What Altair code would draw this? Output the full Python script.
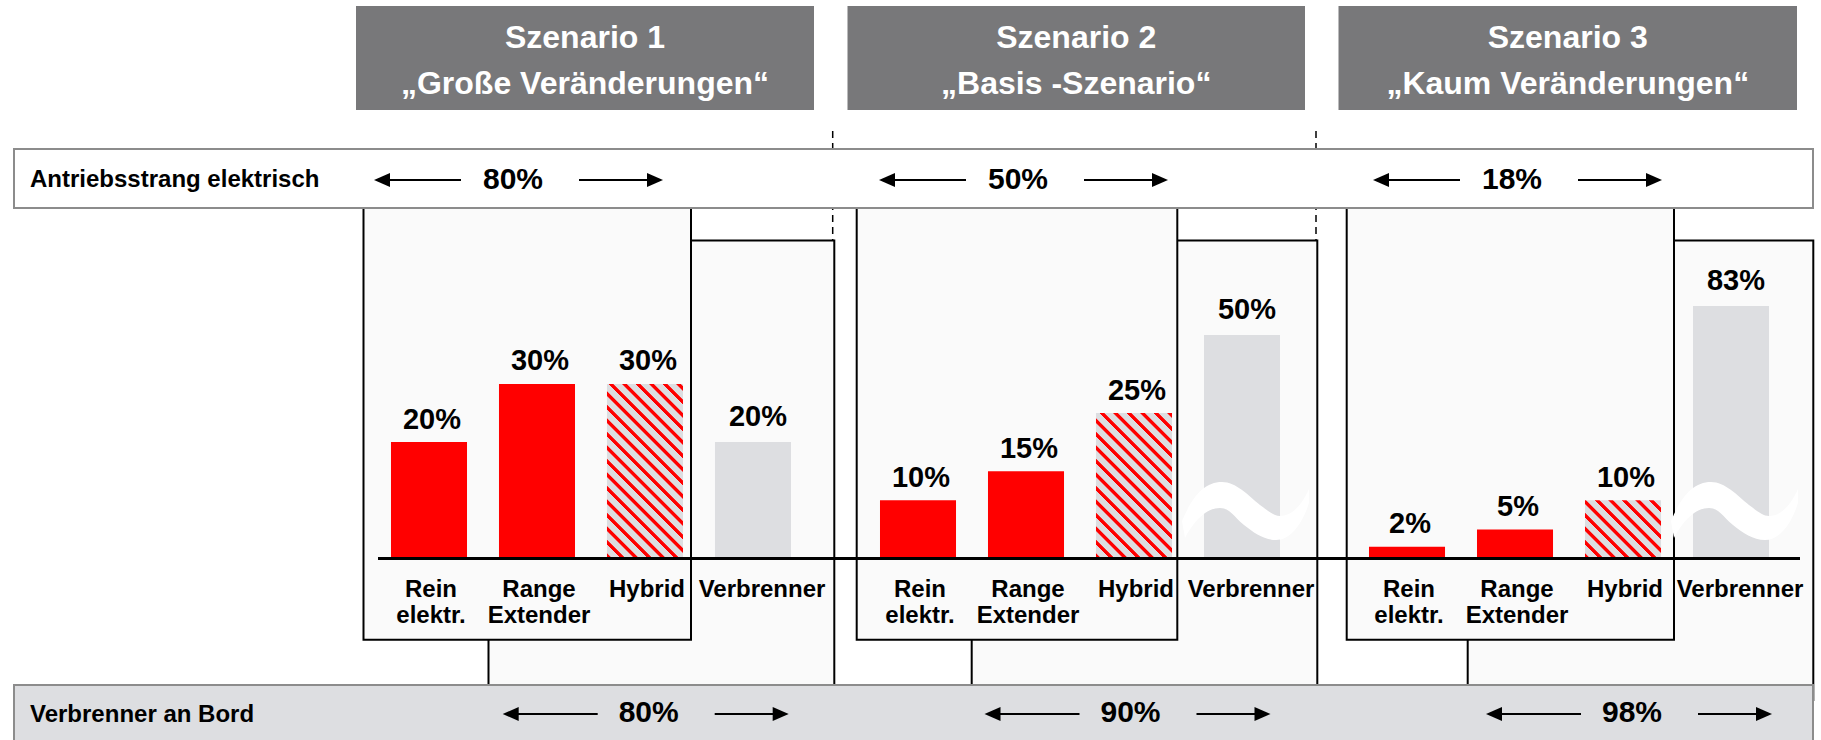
import altair as alt
import pandas as pd

# ------------------------------------------------------------------ data
scenarios = ["Szenario 1", "Szenario 2", "Szenario 3"]
scenario_titles = ["„Große Veränderungen“", "„Basis -Szenario“", "„Kaum Veränderungen“"]
categories = ["Rein elektr.", "Range Extender", "Hybrid", "Verbrenner"]

rein_elektr = [20, 10, 2]
range_extender = [30, 15, 5]
hybrid = [30, 25, 10]
verbrenner = [20, 50, 83]
verbrenner_axis_break = [False, True, True]

antrieb_elektrisch = [80, 50, 18]
verbrenner_an_bord = [80, 90, 98]
band_labels = ["Antriebsstrang elektrisch", "Verbrenner an Bord"]

# ------------------------------------------------------------------ style
RED = "#ff0000"
GREY = "#dddee1"
PANEL = "#fafafa"
HEADER = "#78787a"
BAND_LINE = "#8c8c8c"
FONT = "Liberation Sans"
W, H = 1821, 740

# ------------------------------------------------------------------ layout (pixels)
header_span = [(356, 814), (847.5, 1305), (1338.5, 1797)]
header_top, header_bottom = 6, 110
title_baselines = (48, 94)

elec_span = [(363.5, 691), (856.7, 1177.3), (1346.7, 1674)]
elec_top, elec_bottom = 200, 639.8
verb_span = [(488.5, 834.3), (971.7, 1317.3), (1467.7, 1813.3)]
verb_top, verb_bottom = 240.6, 700
divider_x = [832.7, 1316]
divider_top, divider_bottom = 131, 240.6

band_left, band_right = 14, 1813
top_band = (149, 208)
bottom_band = (685, 750)
band_label_x = 30
top_text_baseline, top_arrow_y = 187, 180
bottom_text_baseline, bottom_arrow_y = 722, 714
top_total_cx = [513, 1018, 1512]
bottom_total_cx = [648.7, 1130.5, 1632]
top_arrow_span = ((-139, -52), (66, 150))
bottom_arrow_span = ((-146, -51), (66, 140))
HEAD_LEN, HEAD_HALF = 16, 7

# ------------------------------------------------------------------ scales for the bars
x_scale = alt.Scale(domain=scenarios, range=[375, 1785], paddingInner=0.1166, paddingOuter=0)
off_scale = alt.Scale(domain=categories, paddingInner=0.296, paddingOuter=0.148)
# broken value axis: linear up to 30 %, compressed above (bars with the ~ break mark)
y_stops = [0, 30, 50, 83]
y_pixels = [558.5, 383.9, 335, 306]
y_scale = alt.Scale(domain=y_stops, range=y_pixels, nice=False, zero=False)
px_per_pct = (y_pixels[0] - y_pixels[1]) / (y_stops[1] - y_stops[0])
BAR_W = 76

X = alt.X("scenario:N", scale=x_scale, axis=None)
XO = alt.XOffset("category:N", scale=off_scale)
Y = alt.Y("value:Q", scale=y_scale, axis=None)

rows = []
for s, r, g, hy, ve, brk in zip(scenarios, rein_elektr, range_extender, hybrid,
                                verbrenner, verbrenner_axis_break):
    for c, v in zip(categories, [r, g, hy, ve]):
        rows.append({"scenario": s, "category": c, "value": v, "label": f"{v}%",
                     "broken": bool(c == "Verbrenner" and brk)})
bars = pd.DataFrame(rows)
base = alt.Chart(bars)


def stripe_fill(w, h, period=13.5, red_w=5.8, soft=1.0):
    """45 degree red/grey hatching as a bounding-box linear gradient."""
    span = w + h
    k = span / (w * w + h * h)
    stops = []
    n = int(span // period) + 2
    for i in range(-1, n):
        s = i * period
        for off, col in [(s, GREY), (s + soft, RED), (s + red_w - soft, RED), (s + red_w, GREY)]:
            t = off / span
            if 0 <= t <= 1:
                stops.append({"offset": round(t, 5), "color": col})
    return {"gradient": "linear", "x1": 0, "y1": 1, "x2": round(k * w, 5),
            "y2": round(1 - k * h, 5), "stops": stops}


def rect_layer(df, **style):
    return alt.Chart(df).mark_rect(**style).encode(
        x=alt.X("x0:Q", scale=None, axis=None), x2="x1:Q",
        y=alt.Y("y0:Q", scale=None, axis=None), y2="y1:Q")


def text_layer(df, **style):
    return alt.Chart(df).mark_text(font=FONT, fontWeight="bold", **style).encode(
        x=alt.X("x:Q", scale=None, axis=None),
        y=alt.Y("y:Q", scale=None, axis=None),
        text="text:N")


layers = []

# frames behind the bars
verb_frames = pd.DataFrame([{"x0": a, "x1": b, "y0": verb_top, "y1": verb_bottom} for a, b in verb_span])
elec_frames = pd.DataFrame([{"x0": a, "x1": b, "y0": elec_top, "y1": elec_bottom} for a, b in elec_span])
layers.append(rect_layer(verb_frames, fill=PANEL, stroke="black", strokeWidth=2))
layers.append(rect_layer(elec_frames, fill=PANEL, stroke="black", strokeWidth=2))

dividers = pd.DataFrame([{"x": x, "y0": divider_top, "y1": divider_bottom} for x in divider_x])
layers.append(alt.Chart(dividers).mark_rule(color="black", strokeWidth=1.5, strokeDash=[7, 5]).encode(
    x=alt.X("x:Q", scale=None, axis=None), y=alt.Y("y0:Q", scale=None, axis=None), y2="y1:Q"))

# horizontal bands
layers.append(rect_layer(pd.DataFrame([{"x0": band_left, "x1": band_right,
                                        "y0": top_band[0], "y1": top_band[1]}]),
                         fill="white", stroke=BAND_LINE, strokeWidth=2))
layers.append(rect_layer(pd.DataFrame([{"x0": band_left, "x1": band_right,
                                        "y0": bottom_band[0], "y1": bottom_band[1]}]),
                         fill=GREY, stroke=BAND_LINE, strokeWidth=2))

# scenario headers
headers = pd.DataFrame([{"x0": a, "x1": b, "y0": header_top, "y1": header_bottom} for a, b in header_span])
layers.append(rect_layer(headers, fill=HEADER))
title_rows = []
for (a, b), s, t in zip(header_span, scenarios, scenario_titles):
    title_rows.append({"x": (a + b) / 2, "y": title_baselines[0], "text": s})
    title_rows.append({"x": (a + b) / 2, "y": title_baselines[1], "text": t})
layers.append(text_layer(pd.DataFrame(title_rows), fontSize=32, color="white",
                         align="center", baseline="alphabetic"))

# bars
layers.append(base.transform_filter(
    alt.FieldOneOfPredicate(field="category", oneOf=["Rein elektr.", "Range Extender"])
).mark_bar(fill=RED).encode(x=X, xOffset=XO, y=Y, y2=alt.datum(0)))

layers.append(base.transform_filter(alt.datum.category == "Verbrenner").mark_bar(fill=GREY).encode(
    x=X, xOffset=XO, y=Y, y2=alt.value(556)))

for s, v in zip(scenarios, hybrid):
    layers.append(base.transform_filter(
        (alt.datum.category == "Hybrid") & (alt.datum.scenario == s)
    ).mark_bar(fill=stripe_fill(BAR_W, v * px_per_pct)).encode(x=X, xOffset=XO, y=Y, y2=alt.datum(0)))

# axis-break mark on the compressed bars
WAVE = ("M -60 10 C -50 -14 -38 -29 -20 -29 C -6 -29 6 -16 18 -6 C 26 0 32 5 38 5 "
        "C 50 5 60 -6 67 -22 L 67 -8 C 60 14 48 29 34 29 C 22 29 12 22 2 14 "
        "C -8 6 -12 -3 -22 -3 C -36 -3 -48 10 -57 27 Z")
layers.append(base.transform_filter("datum.broken").mark_point(
    shape=WAVE, size=4, filled=True, fill="white", opacity=1, strokeWidth=0
).encode(x=X, xOffset=XO, y=alt.value(511)))

# category axis line
layers.append(alt.Chart(pd.DataFrame({"zero": [0]})).mark_rule(color="black", strokeWidth=3).encode(
    y=alt.Y("zero:Q", scale=y_scale, axis=None), x=alt.value(378), x2=alt.value(1800)))

# value labels
layers.append(base.transform_filter(alt.datum.category != "Verbrenner").mark_text(
    font=FONT, fontWeight="bold", fontSize=29, baseline="alphabetic", dx=3, dy=-13.5
).encode(x=X, xOffset=XO, y=Y, text="label:N"))
layers.append(base.transform_filter(alt.datum.category == "Verbrenner").mark_text(
    font=FONT, fontWeight="bold", fontSize=29, baseline="alphabetic", dx=5, dy=-16
).encode(x=X, xOffset=XO, y=Y, text="label:N"))

# category labels
layers.append(base.transform_filter(alt.datum.category != "Verbrenner").mark_text(
    font=FONT, fontWeight="bold", fontSize=24, baseline="alphabetic", lineBreak=" ",
    lineHeight=26.7, dx=2
).encode(x=X, xOffset=XO, y=alt.value(596.5), text="category:N"))
layers.append(base.transform_filter(alt.datum.category == "Verbrenner").mark_text(
    font=FONT, fontWeight="bold", fontSize=24, baseline="alphabetic", dx=9
).encode(x=X, xOffset=XO, y=alt.value(596.5), text="category:N"))

# band labels and totals
band_text = pd.DataFrame([
    {"x": band_label_x, "y": top_text_baseline, "text": band_labels[0]},
    {"x": band_label_x, "y": bottom_text_baseline, "text": band_labels[1]},
])
layers.append(text_layer(band_text, fontSize=24, color="black", align="left", baseline="alphabetic"))

total_rows = []
for cx, v in zip(top_total_cx, antrieb_elektrisch):
    total_rows.append({"x": cx, "y": top_text_baseline + 2, "text": f"{v}%"})
for cx, v in zip(bottom_total_cx, verbrenner_an_bord):
    total_rows.append({"x": cx, "y": bottom_text_baseline, "text": f"{v}%"})
layers.append(text_layer(pd.DataFrame(total_rows), fontSize=30, color="black",
                         align="center", baseline="alphabetic"))

# double arrows around the totals
shaft_rows, left_heads, right_heads = [], [], []
for cxs, y, (lspan, rspan) in [(top_total_cx, top_arrow_y, top_arrow_span),
                               (bottom_total_cx, bottom_arrow_y, bottom_arrow_span)]:
    for cx in cxs:
        shaft_rows.append({"x0": cx + lspan[0] + HEAD_LEN - 1, "x1": cx + lspan[1], "y": y})
        shaft_rows.append({"x0": cx + rspan[0], "x1": cx + rspan[1] - HEAD_LEN + 1, "y": y})
        left_heads.append({"x": cx + lspan[0], "y": y})
        right_heads.append({"x": cx + rspan[1], "y": y})

layers.append(alt.Chart(pd.DataFrame(shaft_rows)).mark_rule(color="black", strokeWidth=2).encode(
    x=alt.X("x0:Q", scale=None, axis=None), x2="x1:Q", y=alt.Y("y:Q", scale=None, axis=None)))
LEFT_HEAD = f"M 0 0 L {HEAD_LEN} {-HEAD_HALF} L {HEAD_LEN} {HEAD_HALF} Z"
RIGHT_HEAD = f"M 0 0 L {-HEAD_LEN} {-HEAD_HALF} L {-HEAD_LEN} {HEAD_HALF} Z"
for heads, shape in [(left_heads, LEFT_HEAD), (right_heads, RIGHT_HEAD)]:
    layers.append(alt.Chart(pd.DataFrame(heads)).mark_point(
        shape=shape, size=4, filled=True, fill="black", opacity=1, strokeWidth=0
    ).encode(x=alt.X("x:Q", scale=None, axis=None), y=alt.Y("y:Q", scale=None, axis=None)))

chart = alt.layer(*layers).properties(
    width=W, height=H, padding=0, background="white",
    autosize=alt.AutoSizeParams(type="none"),
).configure_view(stroke=None)

chart.save("out.html", embed_options={"renderer": "svg", "actions": False})
